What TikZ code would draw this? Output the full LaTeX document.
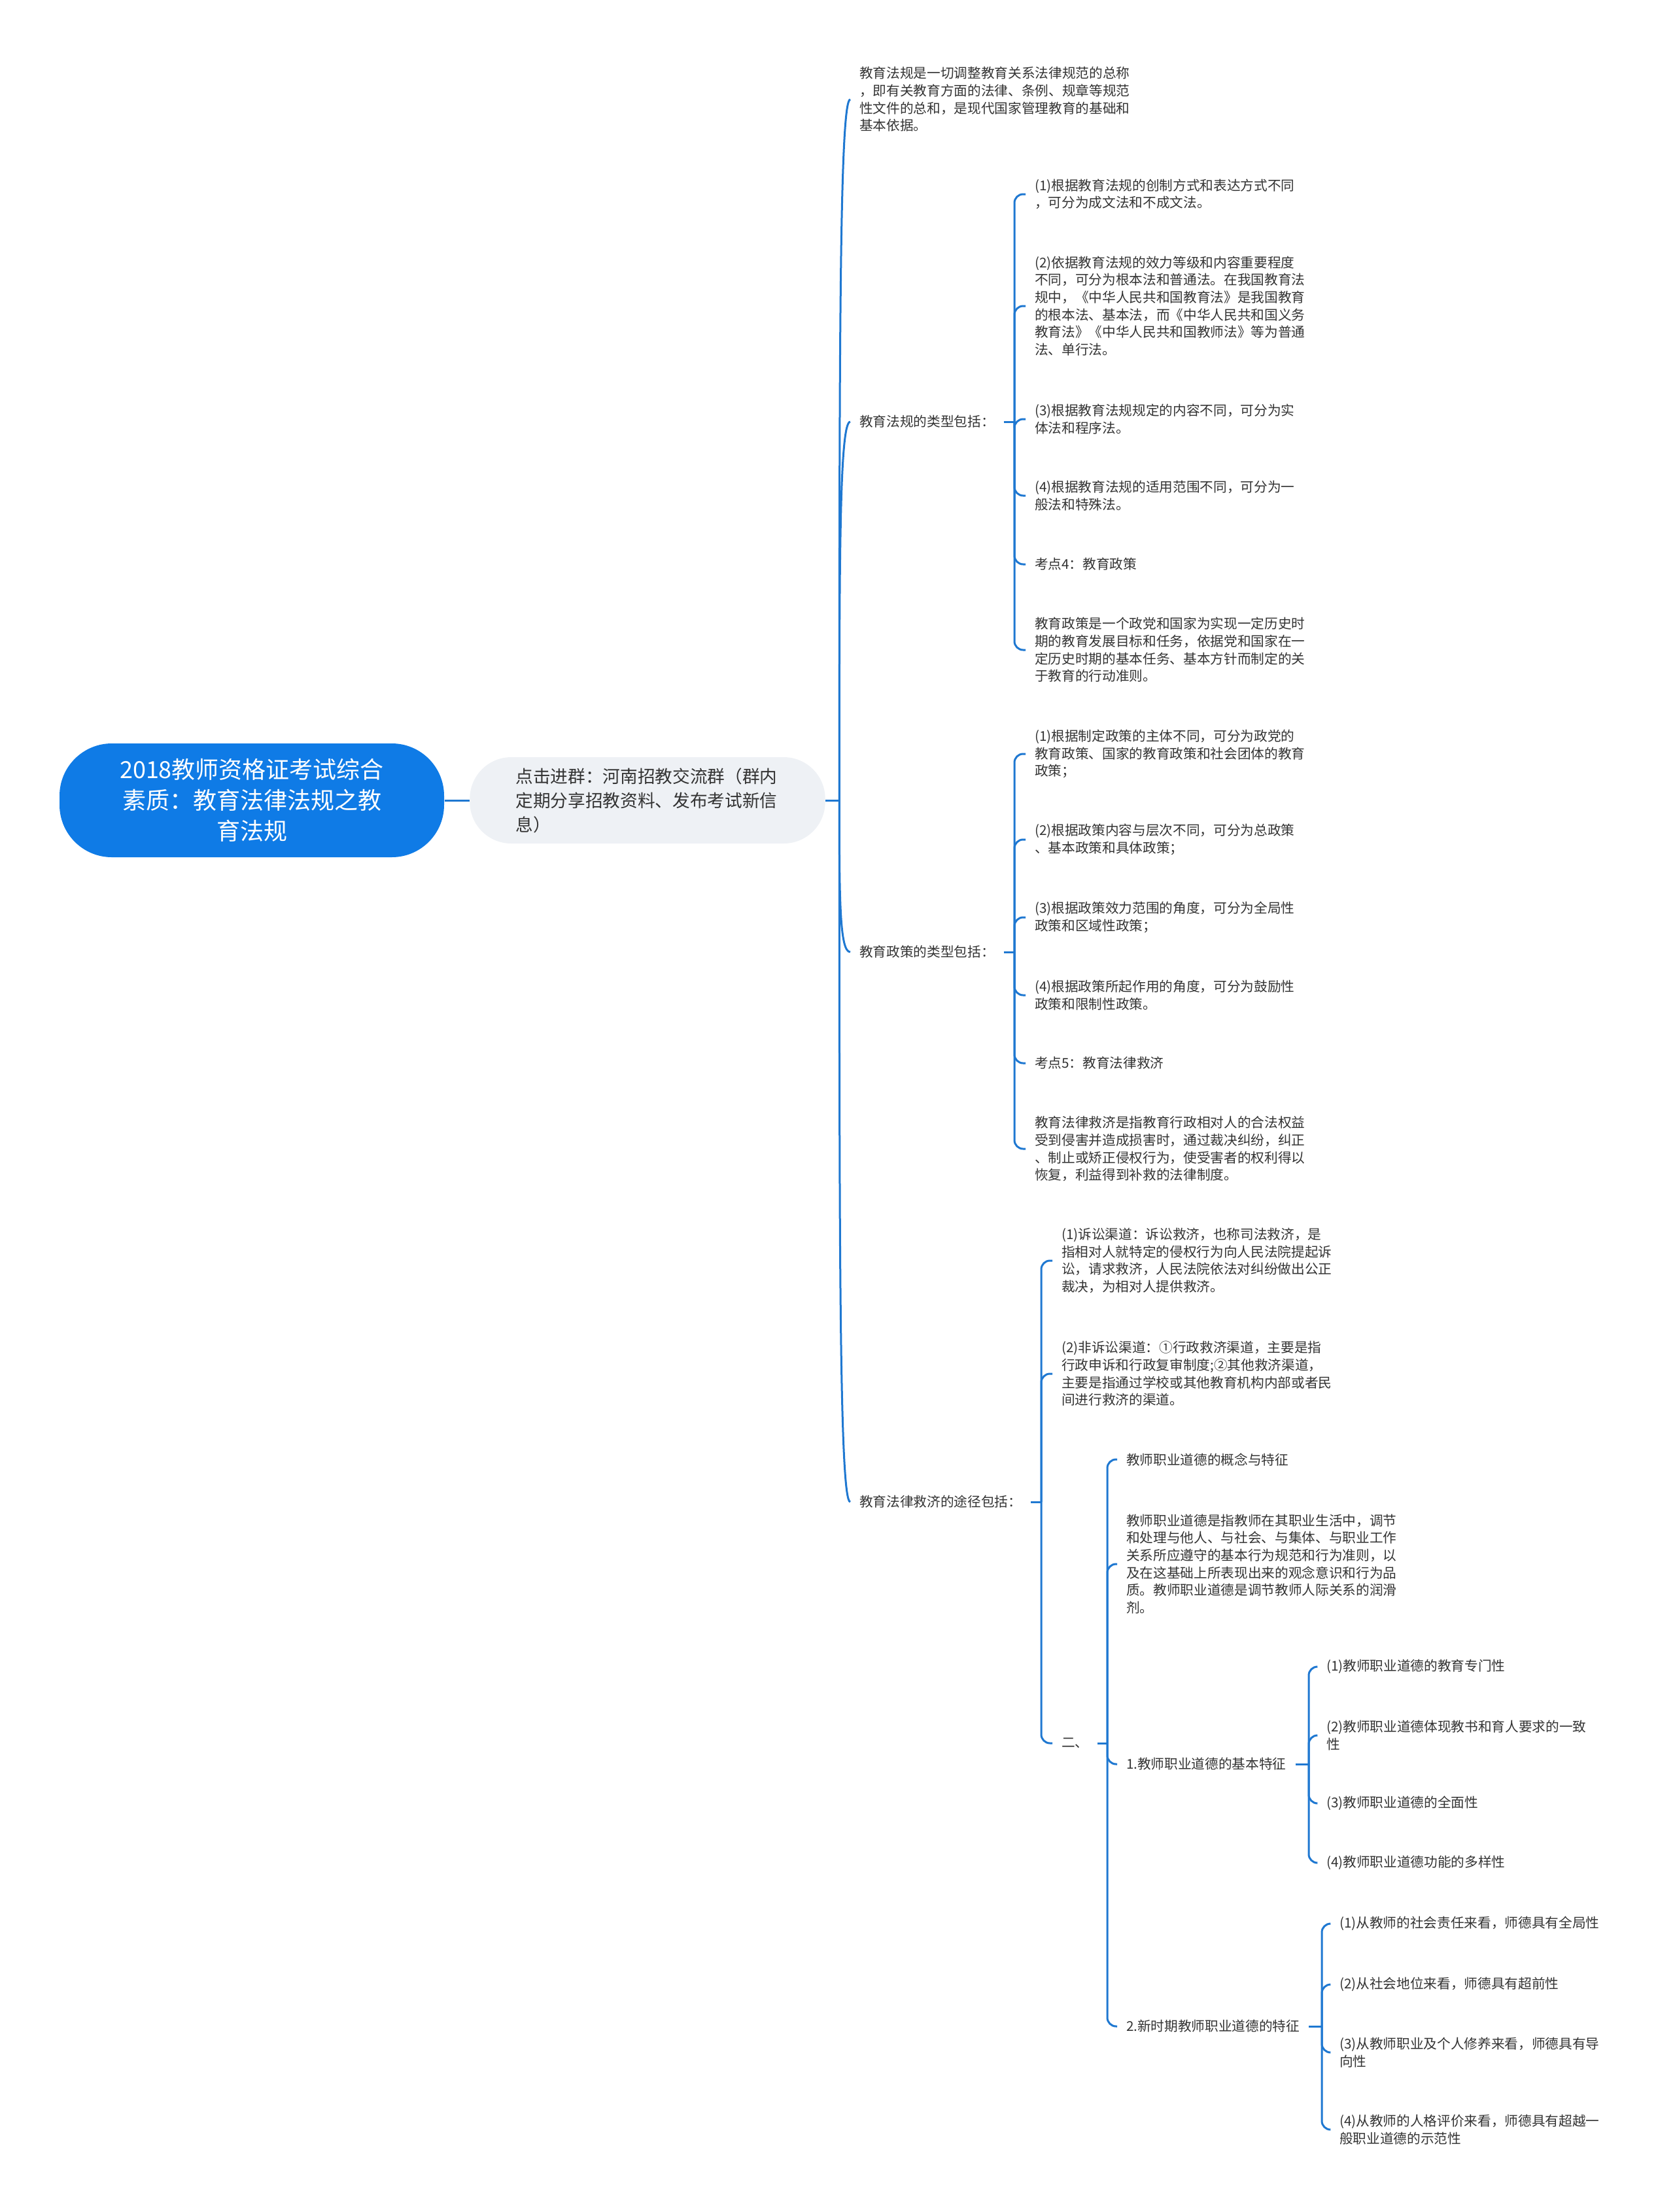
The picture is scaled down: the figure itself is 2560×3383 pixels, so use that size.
\documentclass[tikz,border=0pt]{standalone}
\usepackage{fontspec}
\setmainfont{Noto Sans CJK SC}
\usetikzlibrary{positioning, calc}

\definecolor{rootblue}{HTML}{0F7BE6}
\definecolor{linkblue}{HTML}{1F78D1}
\definecolor{pillgray}{HTML}{EEF1F5}
\definecolor{textgray}{HTML}{333333}

\tikzset{
  rootbox/.style={fill=rootblue, text=white, rounded corners=24pt, minimum width=176.4pt, minimum height=52.2pt, align=center, inner sep=0pt, font=\fontsize{10.8}{14.1}\selectfont},
  pillbox/.style={fill=pillgray, text=textgray, rounded corners=19pt, minimum width=163pt, minimum height=39.6pt, text width=121pt, align=left, inner xsep=21pt, font=\fontsize{8}{11.1}\selectfont},
  leaf/.style={anchor=west, align=left, inner xsep=4pt, inner ysep=1pt, text=textgray, font=\fontsize{6.2}{8}\selectfont},
  link/.style={draw=linkblue, line width=0.9pt},
  bracket/.style={link, rounded corners=4pt},
}

\begin{document}
\begin{tikzpicture}[x=0.3pt, y=0.3pt]
\useasboundingbox (0,0) rectangle (2560,-3383);

% Root and group
\node[rootbox] (root) at (385,-1224) {2018教师资格证考试综合\\素质：教育法律法规之教\\育法规};
\node[pillbox] (pill) at (990,-1224) {点击进群：河南招教交流群（群内\\定期分享招教资料、发布考试新信\\息）};
\draw[link] (root.east) -- (pill.west);

% First level
\node[leaf] (lawdef) at (1300,-152) {教育法规是一切调整教育关系法律规范的总称\\，即有关教育方面的法律、条例、规章等规范\\性文件的总和，是现代国家管理教育的基础和\\基本依据。};
\node[leaf] (lawtype) at (1300,-645) {教育法规的类型包括：};
\node[leaf] (poltype) at (1300,-1456) {教育政策的类型包括：};
\node[leaf] (remedy) at (1300,-2297) {教育法律救济的途径包括：};

\coordinate (hub0) at ($(pill.east)+(21,0)$);
\draw[link] (pill.east) -- (hub0);
\draw[link] (hub0) to[out=90, in=180, out looseness=1.6, in distance=5pt] (lawdef.west);
\draw[link] (hub0) to[out=90, in=180, out looseness=1.6, in distance=5pt] (lawtype.west);
\draw[link] (hub0) to[out=-90, in=180, out looseness=1.6, in distance=5pt] (poltype.west);
\draw[link] (hub0) to[out=-90, in=180, out looseness=1.6, in distance=5pt] (remedy.west);

% Types of education law
\node[leaf] (lt1) at (1568,-297) {(1)根据教育法规的创制方式和表达方式不同\\，可分为成文法和不成文法。};
\node[leaf] (lt2) at (1568,-468) {(2)依据教育法规的效力等级和内容重要程度\\不同，可分为根本法和普通法。在我国教育法\\规中，《中华人民共和国教育法》是我国教育\\的根本法、基本法，而《中华人民共和国义务\\教育法》《中华人民共和国教师法》等为普通\\法、单行法。};
\node[leaf] (lt3) at (1568,-641) {(3)根据教育法规规定的内容不同，可分为实\\体法和程序法。};
\node[leaf] (lt4) at (1568,-758) {(4)根据教育法规的适用范围不同，可分为一\\般法和特殊法。};
\node[leaf] (lt5) at (1568,-863) {考点4：教育政策};
\node[leaf] (lt6) at (1568,-994) {教育政策是一个政党和国家为实现一定历史时\\期的教育发展目标和任务，依据党和国家在一\\定历史时期的基本任务、基本方针而制定的关\\于教育的行动准则。};
\coordinate (hubB) at ($(lt1.west |- lawtype.east)+(-17,0)$);
\draw[link] (lawtype.east) -- (hubB);
\foreach \c in {lt1,lt2,lt3,lt4,lt5,lt6}
  \draw[bracket] (hubB) |- (\c.west);

% Types of education policy
\node[leaf] (pt1) at (1568,-1153) {(1)根据制定政策的主体不同，可分为政党的\\教育政策、国家的教育政策和社会团体的教育\\政策；};
\node[leaf] (pt2) at (1568,-1284) {(2)根据政策内容与层次不同，可分为总政策\\、基本政策和具体政策；};
\node[leaf] (pt3) at (1568,-1403) {(3)根据政策效力范围的角度，可分为全局性\\政策和区域性政策；};
\node[leaf] (pt4) at (1568,-1522) {(4)根据政策所起作用的角度，可分为鼓励性\\政策和限制性政策。};
\node[leaf] (pt5) at (1568,-1626) {考点5：教育法律救济};
\node[leaf] (pt6) at (1568,-1757) {教育法律救济是指教育行政相对人的合法权益\\受到侵害并造成损害时，通过裁决纠纷，纠正\\、制止或矫正侵权行为，使受害者的权利得以\\恢复，利益得到补救的法律制度。};
\coordinate (hubC) at ($(pt1.west |- poltype.east)+(-17,0)$);
\draw[link] (poltype.east) -- (hubC);
\foreach \c in {pt1,pt2,pt3,pt4,pt5,pt6}
  \draw[bracket] (hubC) |- (\c.west);

% Ways of legal remedy
\node[leaf] (rm1) at (1609,-1928) {(1)诉讼渠道：诉讼救济，也称司法救济，是\\指相对人就特定的侵权行为向人民法院提起诉\\讼，请求救济，人民法院依法对纠纷做出公正\\裁决，为相对人提供救济。};
\node[leaf] (rm2) at (1609,-2101) {(2)非诉讼渠道：①行政救济渠道，主要是指\\行政申诉和行政复审制度;②其他救济渠道，\\主要是指通过学校或其他教育机构内部或者民\\间进行救济的渠道。};
\node[leaf] (rm3) at (1609,-2666) {二、};
\coordinate (hubD) at ($(rm1.west |- remedy.east)+(-17,0)$);
\draw[link] (remedy.east) -- (hubD);
\foreach \c in {rm1,rm2,rm3}
  \draw[bracket] (hubD) |- (\c.west);

% Teacher ethics
\node[leaf] (ed1) at (1708,-2232) {教师职业道德的概念与特征};
\node[leaf] (ed2) at (1708,-2392) {教师职业道德是指教师在其职业生活中，调节\\和处理与他人、与社会、与集体、与职业工作\\关系所应遵守的基本行为规范和行为准则，以\\及在这基础上所表现出来的观念意识和行为品\\质。教师职业道德是调节教师人际关系的润滑\\剂。};
\node[leaf] (ed3) at (1708,-2698) {1.教师职业道德的基本特征};
\node[leaf] (ed4) at (1708,-3099) {2.新时期教师职业道德的特征};
\coordinate (hubE) at ($(ed1.west |- rm3.east)+(-15,0)$);
\draw[link] (rm3.east) -- (hubE);
\foreach \c in {ed1,ed2,ed3,ed4}
  \draw[bracket] (hubE) |- (\c.west);

% Basic features
\node[leaf] (bf1) at (2014,-2549) {(1)教师职业道德的教育专门性};
\node[leaf] (bf2) at (2014,-2654) {(2)教师职业道德体现教书和育人要求的一致\\性};
\node[leaf] (bf3) at (2014,-2758) {(3)教师职业道德的全面性};
\node[leaf] (bf4) at (2014,-2849) {(4)教师职业道德功能的多样性};
\coordinate (hubF) at ($(bf1.west |- ed3.east)+(-13,0)$);
\draw[link] (ed3.east) -- (hubF);
\foreach \c in {bf1,bf2,bf3,bf4}
  \draw[bracket] (hubF) |- (\c.west);

% New-era features
\node[leaf] (nf1) at (2034,-2942) {(1)从教师的社会责任来看，师德具有全局性};
\node[leaf] (nf2) at (2034,-3035) {(2)从社会地位来看，师德具有超前性};
\node[leaf] (nf3) at (2034,-3139) {(3)从教师职业及个人修养来看，师德具有导\\向性};
\node[leaf] (nf4) at (2034,-3257) {(4)从教师的人格评价来看，师德具有超越一\\般职业道德的示范性};
\coordinate (hubG) at ($(nf1.west |- ed4.east)+(-13,0)$);
\draw[link] (ed4.east) -- (hubG);
\foreach \c in {nf1,nf2,nf3,nf4}
  \draw[bracket] (hubG) |- (\c.west);
\end{tikzpicture}
\end{document}
